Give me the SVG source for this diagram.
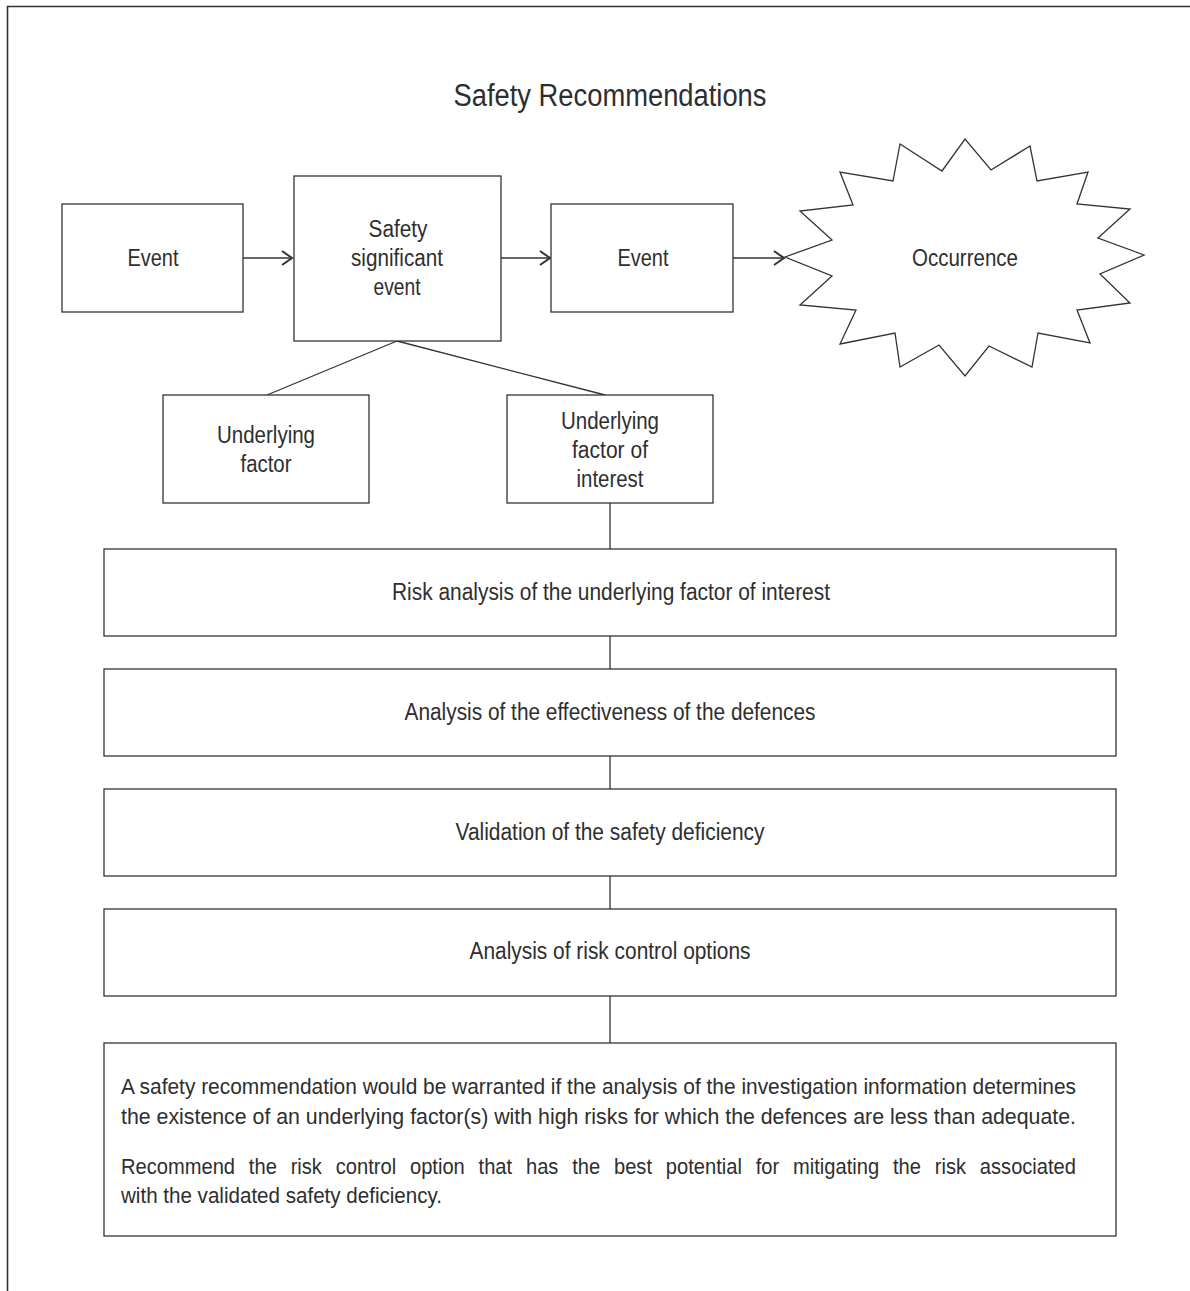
<svg xmlns="http://www.w3.org/2000/svg" width="1190" height="1291" viewBox="0 0 1190 1291">
<style>
  .box { fill: #ffffff; stroke: #333333; stroke-width: 1.3; }
  .ln { fill: none; stroke: #333333; stroke-width: 1.3; }
  .t { font-family: "Liberation Sans", Arial, sans-serif; font-size: 23px; fill: #2e2e2e; text-anchor: middle; }
  .p { font-family: "Liberation Sans", Arial, sans-serif; font-size: 22px; fill: #2e2e2e; }
</style>
<defs>
  <marker id="chev" markerUnits="userSpaceOnUse" markerWidth="14" markerHeight="18" refX="11" refY="8" orient="auto">
    <path d="M1,1 L11,8 L1,15" fill="none" stroke="#333333" stroke-width="2"/>
  </marker>
</defs>
<rect x="0" y="0" width="1190" height="1291" fill="#ffffff"/>
<g id="frame">
  <path d="M7.5,1291 L7.5,6.5 L1190,6.5" fill="none" stroke="#333333" stroke-width="1.6"/>
</g>
<g id="title">
  <text class="t" x="610" y="106" style="font-size:31px" textLength="313" lengthAdjust="spacingAndGlyphs">Safety Recommendations</text>
</g>
<g id="connectors">
  <line class="ln" x1="243" y1="258" x2="292" y2="258" marker-end="url(#chev)"/>
  <line class="ln" x1="501" y1="258" x2="550" y2="258" marker-end="url(#chev)"/>
  <line class="ln" x1="733" y1="258" x2="784" y2="258" marker-end="url(#chev)"/>
  <line class="ln" x1="397" y1="341" x2="267" y2="395"/>
  <line class="ln" x1="397" y1="341" x2="605" y2="395"/>
  <line class="ln" x1="610" y1="503" x2="610" y2="549"/>
  <line class="ln" x1="610" y1="636" x2="610" y2="669"/>
  <line class="ln" x1="610" y1="756" x2="610" y2="789"/>
  <line class="ln" x1="610" y1="876" x2="610" y2="909"/>
  <line class="ln" x1="610" y1="996" x2="610" y2="1043"/>
</g>
<g id="event1">
  <rect class="box" x="62" y="204" width="181" height="108"/>
  <text class="t" x="153" y="266" textLength="51" lengthAdjust="spacingAndGlyphs">Event</text>
</g>
<g id="sse">
  <rect class="box" x="294" y="176" width="207" height="165"/>
  <text class="t" x="398" y="237" textLength="59" lengthAdjust="spacingAndGlyphs">Safety</text>
  <text class="t" x="397" y="266" textLength="92" lengthAdjust="spacingAndGlyphs">significant</text>
  <text class="t" x="397" y="295" textLength="47" lengthAdjust="spacingAndGlyphs">event</text>
</g>
<g id="event2">
  <rect class="box" x="551" y="204" width="182" height="108"/>
  <text class="t" x="643" y="266" textLength="51" lengthAdjust="spacingAndGlyphs">Event</text>
</g>
<g id="occurrence">
  <polygon class="box" points="785,257 832,240 800,211 853,205 840,172 893,181 900,144 942,171 965,139 991,170 1030,146 1037,181 1088,172 1077,204 1130,209 1098,238 1144,255 1100,274 1130,303 1077,310 1090,343 1038,333 1032,367 989,346 965,376 939,345 900,367 895,333 840,344 856,310 800,305 832,276"/>
  <text class="t" x="965" y="266" textLength="106" lengthAdjust="spacingAndGlyphs">Occurrence</text>
</g>
<g id="uf">
  <rect class="box" x="163" y="395" width="206" height="108"/>
  <text class="t" x="266" y="443" textLength="98" lengthAdjust="spacingAndGlyphs">Underlying</text>
  <text class="t" x="266" y="472" textLength="51" lengthAdjust="spacingAndGlyphs">factor</text>
</g>
<g id="ufi">
  <rect class="box" x="507" y="395" width="206" height="108"/>
  <text class="t" x="610" y="429" textLength="98" lengthAdjust="spacingAndGlyphs">Underlying</text>
  <text class="t" x="610" y="458" textLength="76" lengthAdjust="spacingAndGlyphs">factor of</text>
  <text class="t" x="610" y="487" textLength="67" lengthAdjust="spacingAndGlyphs">interest</text>
</g>
<g id="step1">
  <rect class="box" x="104" y="549" width="1012" height="87"/>
  <text class="t" x="611" y="600" textLength="438" lengthAdjust="spacingAndGlyphs">Risk analysis of the underlying factor of interest</text>
</g>
<g id="step2">
  <rect class="box" x="104" y="669" width="1012" height="87"/>
  <text class="t" x="610" y="720" textLength="411" lengthAdjust="spacingAndGlyphs">Analysis of the effectiveness of the defences</text>
</g>
<g id="step3">
  <rect class="box" x="104" y="789" width="1012" height="87"/>
  <text class="t" x="610" y="840" textLength="309" lengthAdjust="spacingAndGlyphs">Validation of the safety deficiency</text>
</g>
<g id="step4">
  <rect class="box" x="104" y="909" width="1012" height="87"/>
  <text class="t" x="610" y="959" textLength="281" lengthAdjust="spacingAndGlyphs">Analysis of risk control options</text>
</g>
<g id="conclusion">
  <rect class="box" x="104" y="1043" width="1012" height="193"/>
  <text class="p" x="121" y="1094" textLength="955" lengthAdjust="spacingAndGlyphs">A safety recommendation would be warranted if the analysis of the investigation information determines</text>
  <text class="p" x="121" y="1124" textLength="955" lengthAdjust="spacingAndGlyphs">the existence of an underlying factor(s) with high risks for which the defences are less than adequate.</text>
  <text class="p" x="121" y="1174" textLength="955" lengthAdjust="spacingAndGlyphs" word-spacing="9">Recommend the risk control option that has the best potential for mitigating the risk associated</text>
  <text class="p" x="121" y="1203" textLength="321" lengthAdjust="spacingAndGlyphs">with the validated safety deficiency.</text>
</g>
</svg>
